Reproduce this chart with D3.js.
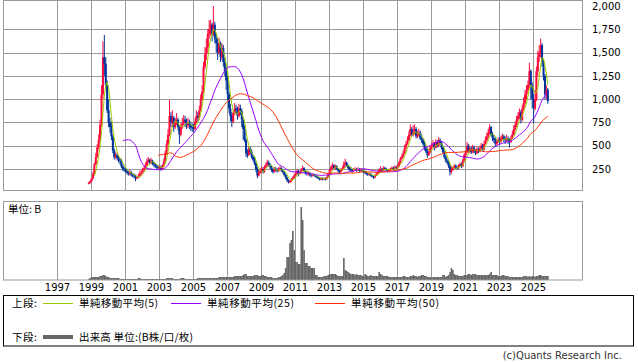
<!DOCTYPE html>
<html>
<head>
<meta charset="utf-8">
<script src="https://cdn.jsdelivr.net/npm/d3@7/dist/d3.min.js"></script>
<style>
  body { margin: 0; background: #fff; }
  svg { display: block; }
  text { font-family: "DejaVu Sans", sans-serif; }
  .jp { font-family: "Noto Sans CJK JP", sans-serif; }
</style>
</head>
<body>
<svg id="chart" width="638" height="362"></svg>
<script>
// monthly bars, first one is Nov 1998
var startYear = 1998, startMonth = 10
var firstOpen = 90

var closes = [
  100,120,
  150,200,300,380,480,560,720,1050,1450,1380,1150,880,
  750,700,600,450,380,400,370,350,340,280,250,240,
  230,210,200,210,190,180,170,150,160,170,200,210,
  240,260,290,330,350,320,340,310,300,280,270,260,
  270,250,280,330,420,520,620,820,750,800,700,760,
  780,700,620,700,740,780,760,720,740,720,700,690,
  680,760,820,800,880,1000,1080,1350,1480,1550,1700,1750,
  1800,1700,1800,1650,1600,1500,1600,1450,1550,1400,1300,1200,
  1050,900,820,760,850,900,880,820,900,870,780,680,
  560,420,400,470,430,380,350,310,250,180,210,230,
  250,220,270,290,320,300,270,240,220,250,240,230,
  250,260,240,220,190,160,130,110,120,140,160,180,
  200,230,200,210,240,260,230,210,200,210,190,180,
  190,180,170,160,150,140,150,140,150,140,160,200,
  240,270,290,260,280,250,230,220,240,260,300,320,
  280,260,250,240,230,240,250,240,250,230,240,230,
  220,210,200,190,200,180,170,160,180,200,220,240,
  250,230,260,250,240,230,240,250,260,250,270,260,
  280,320,360,380,420,480,520,560,620,680,620,640,
  680,600,620,640,580,560,520,470,440,400,430,480,
  500,520,480,540,500,560,530,480,430,380,340,320,
  280,220,240,260,280,270,260,280,300,280,340,400,
  430,500,440,470,430,480,440,420,460,440,470,500,
  460,520,560,600,640,700,620,580,560,520,540,560,
  540,580,600,570,560,580,560,540,580,620,680,720,
  780,820,860,780,900,960,1050,1100,1150,1300,1150,1000,
  900,1000,1300,1450,1500,1580,1400,1250,1050,1100,980
]

var highs = [
  110,130,
  160,220,320,420,520,620,780,1150,1620,1690,1450,1200,
  1000,800,760,620,470,430,420,390,370,360,300,270,
  260,250,230,240,230,210,200,190,180,200,230,240,
  260,280,320,360,380,360,370,350,330,310,300,290,
  290,290,300,360,450,560,680,990,860,880,820,800,
  850,800,720,740,800,830,820,790,800,780,760,740,
  730,800,880,860,930,1050,1150,1400,1560,1650,1750,1850,
  1850,1820,2000,1830,1700,1650,1660,1620,1600,1580,1450,1350,
  1250,1080,950,860,880,960,940,920,950,940,900,800,
  720,580,460,490,490,460,400,380,330,270,240,260,
  280,270,290,320,350,340,310,290,260,270,270,260,
  270,280,270,250,230,200,170,140,130,150,170,200,
  220,250,240,230,260,290,270,240,220,230,220,200,
  200,200,190,180,170,160,160,160,160,160,170,210,
  250,290,320,300,300,290,260,240,260,280,330,360,
  330,300,280,270,250,260,270,260,270,260,260,250,
  245,235,225,210,215,210,190,180,190,215,235,260,
  280,260,280,275,265,250,255,265,280,275,290,285,
  300,340,380,410,450,510,550,600,660,730,700,720,
  730,700,660,680,660,620,580,550,500,470,460,500,
  530,560,540,570,560,590,580,550,500,450,400,360,
  340,300,270,280,300,300,290,300,320,320,360,420,
  450,540,520,500,490,510,500,460,490,480,500,530,
  520,550,600,640,680,730,710,650,610,590,570,590,
  590,610,630,620,600,620,600,580,610,660,720,760,
  820,860,900,880,940,1020,1100,1150,1200,1390,1320,1180,
  1050,1100,1350,1520,1580,1650,1600,1420,1270,1150,1120
]

var lows = [
  85,95,
  110,140,190,290,370,460,540,700,1000,1250,1100,850,
  700,640,560,420,350,360,340,320,300,260,230,220,
  210,190,180,180,170,160,150,120,140,150,160,180,
  200,230,250,280,310,300,300,290,270,260,250,240,
  240,230,240,270,320,400,500,600,700,700,650,680,
  720,660,520,600,680,720,700,680,690,680,660,650,
  640,670,740,760,780,860,980,1060,1320,1420,1500,1650,
  1680,1620,1680,1600,1500,1420,1480,1400,1420,1350,1250,1100,
  990,850,760,700,740,830,840,780,800,830,700,560,
  540,380,370,390,410,360,330,290,220,150,170,200,
  210,200,210,260,280,280,250,220,200,210,220,210,
  220,230,220,200,170,140,110,95,100,110,130,150,
  170,190,170,190,200,230,210,190,180,180,170,160,
  170,170,160,150,140,125,130,130,130,125,135,155,
  190,230,250,240,240,240,210,200,210,230,250,280,
  270,240,230,220,210,220,230,220,230,215,220,215,
  205,195,185,175,180,170,160,145,150,175,195,210,
  220,215,225,235,225,215,220,230,240,235,245,245,
  250,270,310,350,370,410,460,510,550,600,600,600,
  620,580,580,600,560,530,500,450,420,370,390,420,
  460,480,450,470,480,490,510,460,410,360,320,300,
  260,180,200,230,250,250,240,250,270,260,270,330,
  380,420,420,420,410,420,420,400,410,420,430,460,
  440,450,510,540,580,620,600,550,530,490,500,530,
  510,530,560,540,520,540,520,480,530,570,610,660,
  700,760,790,740,760,880,940,1000,1060,1120,1000,900,
  740,880,980,1250,1400,1450,1350,1200,1000,1000,950
]

// volume (B), same months
var volumes = [
  1,2,
  3,3,3,3,3,3,4,4,5,5,4,3,
  3,2,2,2,2,2,2,2,1,1,1,1,
  1,1,1,1,1,1,1,1,1,2,2,1,
  1,1,1,1,1,1,1,1,1,1,1,1,
  1,1,1,1,1,2,2,2,2,2,1,1,
  1,1,1,2,2,2,1,1,1,1,1,1,
  1,1,1,2,2,2,2,2,2,2,2,2,
  2,2,2,2,2,2,3,3,3,3,3,3,
  3,3,3,3,3,4,4,4,4,4,4,5,
  6,6,4,4,4,4,4,5,5,5,4,4,
  5,5,4,4,3,3,3,3,2,2,2,2,
  3,3,4,5,7,12,23,23,37,40,49,30,
  18,18,16,16,73,60,30,17,17,14,14,12,
  12,12,5,5,3,3,3,3,4,4,4,5,
  6,6,6,6,6,5,4,4,4,4,22,10,
  9,8,7,6,6,6,5,6,5,5,5,4,
  4,6,5,4,4,5,4,4,4,4,4,8,
  6,5,4,4,4,4,3,3,3,3,3,3,
  3,3,3,3,4,4,3,3,3,4,4,5,
  4,4,3,4,4,5,5,4,4,3,3,3,
  2,3,3,3,3,3,3,3,5,5,3,4,
  5,8,12,10,6,5,5,4,4,4,4,5,
  5,5,6,6,5,6,6,6,5,5,5,5,
  5,5,5,5,5,6,8,5,5,5,5,4,
  4,4,5,5,4,4,4,3,3,3,3,3,
  3,3,3,3,3,4,4,4,3,4,3,4,
  4,3,4,4,5,5,4,4,4,4,4
]

var yearTicks = d3.range(1997, 2026, 2)
var priceTicks = [250, 500, 750, 1000, 1250, 1500, 1750, 2000]

var maDefs = [
  { n: 5, color: "#99cc00", label: "単純移動平均(5)" },
  { n: 25, color: "#9900ff", label: "単純移動平均(25)" },
  { n: 50, color: "#ff3300", label: "単純移動平均(50)" }
]

var upColor = "#ff0a3c", downColor = "#003399"
var gridColor = "#999999"

var bars = closes.map(function(c, i) {
  return {
    date: new Date(startYear, startMonth + i, 15),
    open: i == 0 ? firstOpen : closes[i - 1],
    close: c,
    high: highs[i],
    low: lows[i],
    vol: volumes[i]
  }
})

var svg = d3.select("#chart")

var x = d3.scaleTime()
  .domain([new Date(1997, 0, 1), new Date(2025, 0, 1)])
  .range([57, 533])
var yP = d3.scaleLinear().domain([0, 2000]).range([192.3, 6])
var yV = d3.scaleLinear().domain([0, 78]).range([280, 202])

var left = 3.5, right = 582.5

function gx(y) { return Math.round(x(new Date(y, 0, 1))) + 0.5 }

// ---- upper panel grid
var upper = svg.append("g")
upper.selectAll(".hgrid")
  .data(priceTicks.filter(function(d) { return d < 2000 }))
  .join("line")
  .attr("x1", left).attr("x2", right)
  .attr("y1", function(d) { return Math.round(yP(d)) + 0.5 })
  .attr("y2", function(d) { return Math.round(yP(d)) + 0.5 })
  .attr("stroke", gridColor)
upper.selectAll(".vgrid")
  .data(yearTicks)
  .join("line")
  .attr("x1", gx).attr("x2", gx)
  .attr("y1", 0.5).attr("y2", 190.5)
  .attr("stroke", gridColor)
upper.append("rect")
  .attr("x", left).attr("y", 0.5)
  .attr("width", right - left).attr("height", 190)
  .attr("fill", "none").attr("stroke", gridColor)

// candles
var candles = svg.append("g")
candles.selectAll("line")
  .data(bars)
  .join("line")
  .attr("x1", function(d) { return x(d.date) })
  .attr("x2", function(d) { return x(d.date) })
  .attr("y1", function(d) { return yP(d.high) })
  .attr("y2", function(d) { return yP(d.low) })
  .attr("stroke", function(d) { return d.close >= d.open ? upColor : downColor })
  .attr("stroke-width", 1)
candles.selectAll("rect")
  .data(bars)
  .join("rect")
  .attr("x", function(d) { return x(d.date) - 1 })
  .attr("width", 2)
  .attr("y", function(d) { return yP(Math.max(d.open, d.close)) })
  .attr("height", function(d) { return Math.max(1, Math.abs(yP(d.open) - yP(d.close))) })
  .attr("fill", function(d) { return d.close >= d.open ? upColor : downColor })

// moving averages
function movingAverage(n) {
  var out = []
  for (var i = n - 1; i < bars.length; i++) {
    out.push({ date: bars[i].date, v: d3.mean(closes.slice(i - n + 1, i + 1)) })
  }
  return out
}
var line = d3.line()
  .x(function(d) { return x(d.date) })
  .y(function(d) { return yP(d.v) })
maDefs.forEach(function(m) {
  svg.append("path")
    .datum(movingAverage(m.n))
    .attr("d", line)
    .attr("fill", "none")
    .attr("stroke", m.color)
    .attr("stroke-width", 1)
})

// price labels on the right
var yAxis = d3.axisRight(yP)
  .tickValues(priceTicks)
  .tickSize(0)
  .tickPadding(9)
  .tickFormat(d3.format(","))
svg.append("g")
  .attr("transform", "translate(583,0)")
  .call(yAxis)
  .call(function(g) { g.select(".domain").remove() })
  .selectAll("text")
  .attr("font-family", "DejaVu Sans")
  .attr("font-size", 10)
  .attr("fill", "#000")

// ---- volume panel
var vol = svg.append("g")
vol.selectAll(".vgrid")
  .data(yearTicks)
  .join("line")
  .attr("x1", gx).attr("x2", gx)
  .attr("y1", 201.5).attr("y2", 280)
  .attr("stroke", gridColor)
vol.selectAll(".vbar")
  .data(bars)
  .join("rect")
  .attr("x", function(d) { return x(d.date) - 0.75 })
  .attr("width", 1.6)
  .attr("y", function(d) { return yV(d.vol) })
  .attr("height", function(d) { return yV(0) - yV(d.vol) })
  .attr("fill", "#666666")
vol.append("rect")
  .attr("x", left).attr("y", 201.5)
  .attr("width", right - left).attr("height", 78.5)
  .attr("fill", "none").attr("stroke", gridColor)
svg.append("text")
  .attr("class", "jp")
  .attr("x", 8).attr("y", 213)
  .attr("font-size", 10.5)
  .text("単位: B")

var xAxis = d3.axisBottom(x)
  .tickValues(yearTicks.map(function(y) { return new Date(y, 0, 1) }))
  .tickSize(0)
  .tickPadding(4)
  .tickFormat(d3.timeFormat("%Y"))
svg.append("g")
  .attr("transform", "translate(0,280)")
  .call(xAxis)
  .call(function(g) { g.select(".domain").remove() })
  .selectAll("text")
  .attr("font-family", "DejaVu Sans")
  .attr("font-size", 10)
  .attr("fill", "#000")

// ---- legend
var leg = svg.append("g")
leg.append("rect")
  .attr("x", 3.5).attr("y", 295.5)
  .attr("width", 630).attr("height", 50.5)
  .attr("fill", "none").attr("stroke", "#000")

function legText(tx, ty, str, w) {
  leg.append("text").attr("class", "jp")
    .attr("x", tx).attr("y", ty).attr("font-size", 10.5)
    .attr("textLength", w).attr("lengthAdjust", "spacing")
    .text(str)
}
legText(12, 307, "上段:", 25)
var legX = [43, 171, 315]
var legW = [79, 87, 88]
maDefs.forEach(function(m, i) {
  leg.append("line")
    .attr("x1", legX[i]).attr("x2", legX[i] + 30)
    .attr("y1", 303.5).attr("y2", 303.5)
    .attr("stroke", m.color)
  legText(legX[i] + 36, 307, m.label, legW[i])
})
legText(12, 341, "下段:", 25)
leg.append("line")
  .attr("x1", 43).attr("x2", 73)
  .attr("y1", 337).attr("y2", 337)
  .attr("stroke", "#666666").attr("stroke-width", 4)
legText(79, 341, "出来高 単位:(B株/口/枚)", 114)

svg.append("text")
  .attr("x", 622).attr("y", 359)
  .attr("text-anchor", "end")
  .attr("font-size", 10)
  .attr("fill", "#333")
  .text("(c)Quants Research Inc.")
</script>
</body>
</html>
